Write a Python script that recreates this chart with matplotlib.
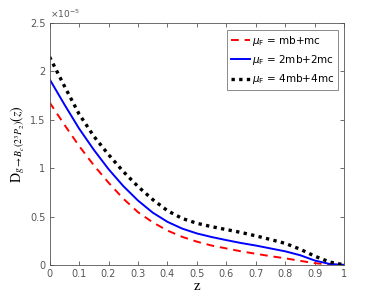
import numpy as np
import matplotlib
matplotlib.use("Agg")
import matplotlib.pyplot as plt

# z grid and D(z) values (units of 1e-5)
z = [0.0, 0.05, 0.1, 0.15, 0.2, 0.25, 0.3, 0.35, 0.4, 0.45, 0.5,
     0.55, 0.6, 0.65, 0.7, 0.75, 0.8, 0.85, 0.9, 0.95, 1.0]
d_mb_mc = [1.68, 1.45, 1.23, 1.03, 0.85, 0.685, 0.545, 0.44, 0.355, 0.29, 0.24,
           0.20, 0.17, 0.14, 0.115, 0.09, 0.068, 0.042, 0.018, 0.004, 0.0]
d_2mb_2mc = [1.92, 1.66, 1.41, 1.19, 0.99, 0.815, 0.665, 0.54, 0.445, 0.375, 0.325,
             0.288, 0.256, 0.226, 0.20, 0.17, 0.14, 0.10, 0.045, 0.01, 0.0]
d_4mb_4mc = [2.15, 1.85, 1.56, 1.33, 1.14, 0.965, 0.81, 0.675, 0.56, 0.48, 0.43,
             0.395, 0.365, 0.335, 0.30, 0.262, 0.222, 0.162, 0.09, 0.03, 0.0]
labels = [r"$\mu_{\rm F}$ = mb+mc", r"$\mu_{\rm F}$ = 2mb+2mc", r"$\mu_{\rm F}$ = 4mb+4mc"]

gray = "#555555"
fig = plt.figure(figsize=(3.81, 2.98), dpi=100)
ax = fig.add_axes([0.13, 0.111, 0.774, 0.812])

ax.plot(z, d_mb_mc, color="red", ls=(0, (4, 3)), lw=1.4, label=labels[0])
ax.plot(z, d_2mb_2mc, color="blue", ls="-", lw=1.4, label=labels[1])
ax.plot(z, d_4mb_4mc, color="black", ls=(0, (1, 1.3)), lw=2.4, label=labels[2])

ax.set_xlim(0, 1)
ax.set_ylim(0, 2.5)
ax.set_xticks(np.arange(0, 1.01, 0.1))
ax.set_xticklabels(["0", "0.1", "0.2", "0.3", "0.4", "0.5", "0.6", "0.7", "0.8", "0.9", "1"])
ax.set_yticks([0, 0.5, 1, 1.5, 2, 2.5])
ax.set_yticklabels(["0", "0.5", "1", "1.5", "2", "2.5"])
ax.tick_params(direction="in", length=3, width=0.6, labelsize=7, colors=gray,
               top=True, right=True, pad=3)
for s in ax.spines.values():
    s.set_color(gray)
    s.set_linewidth(0.6)

ax.text(0.0, 1.012, r"$\times10^{-5}$", transform=ax.transAxes, fontsize=6.5,
        color=gray, ha="left", va="bottom")
ax.set_xlabel("z", family="Liberation Serif", fontsize=11, labelpad=1)
ax.set_ylabel(r"$\mathrm{D}_{g\to B_c(2^3P_2)}\left(z\right)$", fontsize=10,
              labelpad=2, math_fontfamily="stix")

leg = ax.legend(loc="upper right", fontsize=7.5, frameon=True, fancybox=False,
                edgecolor=gray, handlelength=1.8, handletextpad=0.2,
                borderpad=0.4, labelspacing=0.5, borderaxespad=0.3,
                bbox_to_anchor=(0.99, 0.985))
leg.get_frame().set_linewidth(0.6)

fig.savefig("out.png", dpi=100)
